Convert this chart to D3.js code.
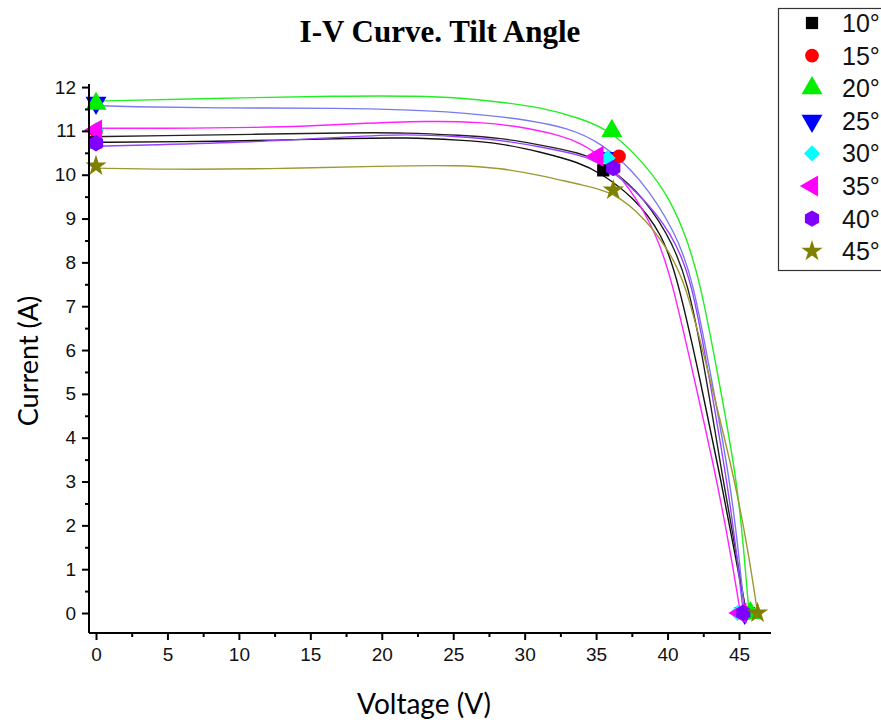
<!DOCTYPE html>
<html>
<head>
<meta charset="utf-8">
<script src="https://cdn.jsdelivr.net/npm/d3@7"></script>
<style>
  body { margin: 0; background: #fff; }
  svg { display: block; }
</style>
</head>
<body>
<svg width="881" height="720"></svg>
<script>
// Ángulos de inclinación (leyenda)
const angles = ["10°", "15°", "20°", "25°", "30°", "35°", "40°", "45°"];
const colors = ["#000000", "#ff0000", "#00ee00", "#0000ff", "#00ffff", "#ff00ff", "#8000ff", "#808000"];
const lineColors = ["#111111", "#222222", "#22ee22", "#7a7af0", null, "#ff22ff", "#9a40ff", "#9a9a30"];

// Puntos medidos: Isc, punto de máxima potencia, Voc
const pointV = [
  [0, 35.5, 45.5],
  [0, 36.6, 45.5],
  [0, 36.1, 45.8],
  [0, 35.9, 45.4],
  [0, 35.8, 44.9],
  [0, 35.1, 45.1],
  [0, 36.2, 45.3],
  [0, 36.2, 46.3]
];
const pointI = [
  [10.74, 10.10, 0],
  [11.00, 10.42, 0],
  [11.62, 11.00, 0],
  [11.64, 10.38, 0],
  [11.02, 10.38, 0],
  [11.02, 10.42, 0],
  [10.72, 10.15, 0],
  [10.20, 9.65, 0]
];

// Curvas ajustadas (voltaje, corriente)
const fit10 = [[0, 10.74], [5.9, 10.75], [12.9, 10.79], [17.8, 10.83], [21.7, 10.85], [25.5, 10.79], [28.3, 10.72], [31.1, 10.52], [33.9, 10.27], [35.3, 10.04], [37.6, 9.50], [39.61, 8.67], [40.73, 7.60], [42.3, 5.30], [43.74, 3.03], [44.8, 1.20], [45.5, 0]];
const fit15 = [[0, 10.87], [4.5, 10.89], [10.8, 10.92], [17.8, 10.96], [21.7, 10.96], [25.5, 10.90], [28.3, 10.84], [31.1, 10.68], [33.9, 10.50], [35.3, 10.30], [37.8, 9.70], [40.03, 8.67], [41.43, 7.60], [42.7, 5.40], [43.88, 3.03], [44.9, 1.20], [45.5, 0]];
const fit20 = [[0, 11.68], [8, 11.74], [17.1, 11.80], [22.7, 11.80], [25.5, 11.75], [28.3, 11.66], [31.1, 11.54], [33.9, 11.29], [36.1, 11.00], [38.6, 10.18], [40.2, 9.42], [41.2, 8.67], [42.27, 7.60], [43.6, 5.30], [44.86, 3.03], [45.35, 1.40], [45.7, 0]];
const fit25 = [[0, 11.58], [2.2, 11.55], [8.2, 11.52], [17.5, 11.52], [21.7, 11.48], [24.5, 11.44], [27.3, 11.36], [30.2, 11.25], [33.0, 11.07], [35.3, 10.75], [38.1, 9.95], [40.6, 8.67], [41.78, 7.60], [43.1, 5.30], [44.37, 3.03], [45.0, 1.30], [45.4, 0]];
const fit35 = [[0, 11.06], [7.3, 11.06], [11, 11.08], [14.3, 11.10], [17.8, 11.16], [23.4, 11.23], [26.9, 11.20], [29.7, 11.10], [32.5, 10.90], [33.9, 10.72], [35.3, 10.45], [37.4, 9.70], [39.2, 8.67], [40.31, 7.60], [41.9, 5.30], [43.46, 3.03], [44.5, 1.20], [45.1, 0]];
const fit40 = [[0, 10.65], [3.8, 10.68], [10.8, 10.74], [17.8, 10.87], [21.7, 10.93], [25.5, 10.87], [28.3, 10.79], [31.1, 10.64], [33.9, 10.45], [35.3, 10.27], [38.0, 9.60], [40.3, 8.67], [41.71, 7.60], [42.95, 5.30], [44.16, 3.03], [44.9, 1.20], [45.3, 0]];
const fit45 = [[0, 10.15], [5, 10.12], [12, 10.13], [20, 10.20], [25.5, 10.22], [28.3, 10.15], [31.1, 9.99], [33.9, 9.77], [36.2, 9.62], [38.5, 8.98], [40.0, 8.30], [41.22, 7.60], [43.0, 5.30], [44.72, 3.03], [45.7, 1.30], [46.3, 0]];
const fits = [fit10, fit15, fit20, fit25, null, fit35, fit40, fit45];

// Orden de dibujo de los marcadores
const drawOrder = [3, 1, 0, 4, 5, 2, 6, 7];

// Ticks
const xTicks = [0, 5, 10, 15, 20, 25, 30, 35, 40, 45];
const yTicks = [0, 1, 2, 3, 4, 5, 6, 7, 8, 9, 10, 11, 12];

const svg = d3.select("svg");

const x = d3.scaleLinear().domain([-0.49, 47.24]).range([89, 771]);
const y = d3.scaleLinear().domain([-0.456, 12.07]).range([633, 84]);

// Hexágono como símbolo propio
const symbolHexagon = {
  draw(context, size) {
    const r = Math.sqrt(size / (1.5 * Math.sqrt(3)));
    for (let k = 0; k < 6; k++) {
      const a = Math.PI / 6 + k * Math.PI / 3;
      const px = r * Math.cos(a), py = r * Math.sin(a);
      if (k === 0) context.moveTo(px, py); else context.lineTo(px, py);
    }
    context.closePath();
  }
};

const shapes = [
  { type: d3.symbolSquare, size: 150, rot: 0 },
  { type: d3.symbolCircle, size: 150, rot: 0 },
  { type: d3.symbolTriangle, size: 190, rot: 0 },
  { type: d3.symbolTriangle, size: 190, rot: 180 },
  { type: d3.symbolSquare, size: 130, rot: 45 },
  { type: d3.symbolTriangle, size: 190, rot: -90 },
  { type: symbolHexagon, size: 175, rot: 0 },
  { type: d3.symbolStar, size: 140, rot: 0 }
];

// Título
svg.append("text")
  .attr("x", 440).attr("y", 42)
  .attr("text-anchor", "middle")
  .style("font-family", "Liberation Serif, Times New Roman, serif")
  .style("font-weight", "bold")
  .style("font-size", "31px")
  .text("I-V Curve. Tilt Angle");

// Curvas ajustadas (B-spline suave)
const line = d3.line()
  .x(d => x(d[0]))
  .y(d => y(d[1]))
  .curve(d3.curveBasis);

svg.append("g")
  .selectAll("path")
  .data(fits.map((f, i) => ({ f, i })).filter(d => d.f))
  .enter().append("path")
  .attr("d", d => line(d.f))
  .attr("fill", "none")
  .attr("stroke", d => lineColors[d.i])
  .attr("stroke-width", 1.4);

// Marcadores
const markers = [];
drawOrder.forEach(i => {
  pointV[i].forEach((v, j) => markers.push({ i, v, c: pointI[i][j] }));
});

svg.append("g")
  .selectAll("path")
  .data(markers)
  .enter().append("path")
  .attr("d", d => d3.symbol().type(shapes[d.i].type).size(shapes[d.i].size)())
  .attr("transform", d => `translate(${x(d.v)},${y(d.c)}) rotate(${shapes[d.i].rot})`)
  .attr("fill", d => colors[d.i]);

// Ejes
const xAxis = svg.append("g")
  .attr("transform", "translate(0,633)")
  .call(d3.axisBottom(x).tickValues(xTicks).tickSize(7).tickPadding(8).tickFormat(d3.format("d")));
xAxis.append("g")
  .call(d3.axisBottom(x).tickValues(d3.range(2.5, 47, 5)).tickSize(4).tickFormat(""));

const yAxis = svg.append("g")
  .attr("transform", "translate(89,0)")
  .call(d3.axisLeft(y).tickValues(yTicks).tickSize(7).tickPadding(6).tickFormat(d3.format("d")));
yAxis.append("g")
  .call(d3.axisLeft(y).tickValues(d3.range(0.5, 12, 1)).tickSize(4).tickFormat(""));

svg.selectAll(".domain").attr("stroke-width", 2);
svg.selectAll(".tick line").attr("stroke-width", 2);
xAxis.selectAll(".domain").attr("d", "M89,0H771");
yAxis.selectAll(".domain").attr("d", "M0,84V633");
svg.selectAll(".tick text")
  .style("font-family", "Liberation Sans, Arial, sans-serif")
  .style("font-size", "19px")
  .attr("fill", "#111");

// Títulos de los ejes
svg.append("text")
  .attr("x", 424).attr("y", 714)
  .attr("text-anchor", "middle")
  .style("font-family", "Lato, sans-serif")
  .style("font-size", "28px")
  .text("Voltage (V)");

svg.append("text")
  .attr("transform", "translate(38,361) rotate(-90)")
  .attr("text-anchor", "middle")
  .style("font-family", "Lato, sans-serif")
  .style("font-size", "27px")
  .text("Current (A)");

// Leyenda
const legend = svg.append("g");
legend.append("rect")
  .attr("x", 778.5).attr("y", 8.5)
  .attr("width", 120).attr("height", 262)
  .attr("fill", "#fff")
  .attr("stroke", "#333")
  .attr("stroke-width", 1.2);

const row = legend.selectAll("g.row")
  .data(angles)
  .enter().append("g")
  .attr("class", "row")
  .attr("transform", (d, i) => `translate(0,${23 + i * 32.6})`);

row.append("path")
  .attr("d", (d, i) => d3.symbol().type(shapes[i].type).size(shapes[i].size)())
  .attr("transform", (d, i) => `translate(812,0) rotate(${shapes[i].rot})`)
  .attr("fill", (d, i) => colors[i]);

row.append("text")
  .attr("x", 842).attr("y", 9)
  .style("font-family", "Liberation Sans, Arial, sans-serif")
  .style("font-size", "25px")
  .attr("fill", "#111")
  .text(d => d);
</script>
</body>
</html>
